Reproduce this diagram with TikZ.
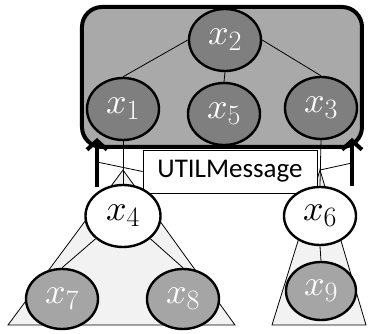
\RequirePackage{fix-cm}
\documentclass[tikz,border=0pt]{standalone}
\usepackage{amsmath}
\usepackage{fontspec}
\newfontfamily\msgfont{Carlito}
\usetikzlibrary{arrows.meta,shapes.geometric}
\DeclareFontShape{OML}{cmm}{m}{it}{<->cmmi10}{}
\DeclareMathSizes{36}{36}{28}{22}
\newcommand\varfont{\fontsize{36}{40}\selectfont}
\definecolor{clustgray}{HTML}{A9A9A9}
\definecolor{vardark}{HTML}{7F7F7F}
\definecolor{varmid}{HTML}{A5A5A5}
\definecolor{treefill}{HTML}{F2F2F2}
\tikzset{
  var/.style={ellipse,draw=black,line width=2.4pt,inner sep=0pt,
    minimum width=72pt,minimum height=62pt,font=\varfont},
  dvar/.style={var,fill=vardark,text=white},   % agent in cluster
  lvar/.style={var,fill=varmid,text=white},    % leaf agent
  wvar/.style={var,fill=white},                % subtree root
  subtree/.style={draw=black,line width=0.8pt,fill=treefill},
  cluster/.style={draw=black,line width=4pt,fill=clustgray,rounded corners=20pt},
  msgbox/.style={draw=black,line width=0.8pt,fill=white,minimum width=174pt,
    minimum height=43pt,inner sep=0pt,font=\msgfont\fontsize{27}{30}\selectfont},
  edge/.style={line width=0.8pt},
  up/.style={line width=4pt,-{Straight Barb[length=9pt,width=20pt]}},
}

\begin{document}
\begin{tikzpicture}[x=1pt,y=-1pt]
  \useasboundingbox (0,0) rectangle (368,334);
  % subtrees below the cluster
  \coordinate (ltop) at (123,170);
  \coordinate (rtop) at (320,170);
  \draw[subtree] (ltop) -- (8,325) -- (235,325) -- cycle;
  \draw[subtree] (rtop) -- (272,325) -- (366,325) -- cycle;
  % cluster
  \draw[cluster] (82,7) rectangle (362,147);
  \node[msgbox] (msg) at (230,171.5) {UTILMessage};
  % agents
  \node[dvar] (x2) at (225,40) {$x_2$};
  \node[dvar] (x1) at (123,109) {$x_1$};
  \node[dvar] (x5) at (224,114) {$x_5$};
  \node[dvar] (x3) at (321,108) {$x_3$};
  \node[wvar,minimum width=75pt] (x4) at (123,216) {$x_4$};
  \node[wvar,minimum height=58pt] (x6) at (320,216) {$x_6$};
  \node[lvar,minimum height=60pt] (x7) at (62,299) {$x_7$};
  \node[lvar,minimum height=60pt] (x8) at (183,299) {$x_8$};
  \node[lvar,minimum width=70pt,minimum height=58pt] (x9) at (321,291) {$x_9$};
  % tree edges
  \draw[edge] (x2.west) -- (x1.north);
  \draw[edge] (x2.south) -- (x5.north);
  \draw[edge] (x2.east) -- (x3.north);
  \draw[edge] (x1.south) -- (x4.north);
  \draw[edge] (x3.south) -- (x6.north);
  \draw[edge] (x4.south west) -- (x7.north);
  \draw[edge] (x4.south east) -- (x8.north);
  \draw[edge] (x6.south) -- (x9.north);
  % messages going up
  \coordinate (la0) at (97,187); \coordinate (la1) at (97,138);
  \coordinate (ra0) at (352,186); \coordinate (ra1) at (352,138);
  \coordinate (lm) at (97,162); \coordinate (rm) at (352,163);
  \draw[edge] (lm) -- (msg.west);
  \draw[edge] (rtop) -- (rm);
  \draw[up] (la0) -- (la1);
  \draw[up] (ra0) -- (ra1);
\end{tikzpicture}
\end{document}
